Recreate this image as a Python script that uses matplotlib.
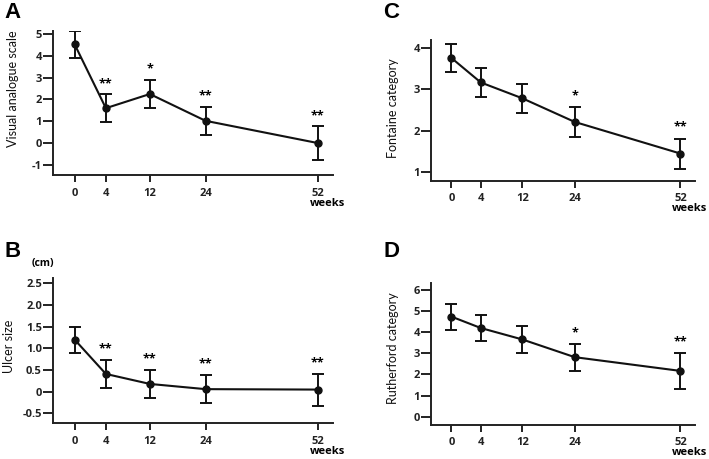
import numpy as np
import matplotlib
matplotlib.use("Agg")
import matplotlib.pyplot as plt
from matplotlib.transforms import offset_copy

plt.rcParams['font.family'] = ['Open Sans', 'DejaVu Sans']

weeks = [0, 4, 12, 24, 52]
week_labels = ["0", "4", "12", "24", "52"]

# Panel A: Visual analogue scale
vas_mean = [4.53, 1.60, 2.25, 1.02, 0.0]
vas_err = [0.62, 0.63, 0.66, 0.63, 0.76]
vas_sig = ["", "**", "*", "**", "**"]

# Panel B: Ulcer size (cm)
ulcer_mean = [1.20, 0.41, 0.18, 0.06, 0.05]
ulcer_err = [0.30, 0.32, 0.32, 0.33, 0.37]
ulcer_sig = ["", "**", "**", "**", "**"]

# Panel C: Fontaine category
font_mean = [3.75, 3.16, 2.78, 2.21, 1.45]
font_err = [0.34, 0.35, 0.35, 0.35, 0.36]
font_sig = ["", "", "", "*", "**"]

# Panel D: Rutherford category
ruth_mean = [4.74, 4.20, 3.66, 2.82, 2.17]
ruth_err = [0.62, 0.63, 0.65, 0.64, 0.85]
ruth_sig = ["", "", "", "*", "**"]


def fwd(x):
    x = np.asarray(x, dtype=float)
    return np.sign(x) * np.abs(x) ** 0.8


def inv(y):
    y = np.asarray(y, dtype=float)
    return np.sign(y) * np.abs(y) ** (1 / 0.8)


fig = plt.figure(figsize=(7.09, 4.59), dpi=100)


def panel(rect, mean, err, sig, ylim, yticks, yticklabels, ylabel, letter,
          letter_xy, star_off, label_x, label_y):
    ax = fig.add_axes(rect)
    ax.set_xscale('function', functions=(fwd, inv))
    ax.errorbar(weeks, mean, yerr=err, color='#111111', lw=1.5,
                marker='o', ms=5, capsize=4, capthick=1.4, elinewidth=1.4)
    ax.set_xlim(inv(-2.1), inv(25.1))
    ax.set_ylim(*ylim)
    ax.spines['top'].set_visible(False)
    ax.spines['right'].set_visible(False)
    for s in ('left', 'bottom'):
        ax.spines[s].set_linewidth(1.4)
        ax.spines[s].set_color('#222222')
    ax.set_xticks(weeks)
    ax.set_xticklabels(week_labels, fontsize=8, fontweight='bold')
    ax.xaxis.set_minor_locator(matplotlib.ticker.NullLocator())
    ax.set_yticks(yticks)
    ax.set_yticklabels(yticklabels, fontsize=8, fontweight='bold')
    ax.tick_params(axis='y', length=7, width=1.4, pad=1, colors='#222222')
    ax.tick_params(axis='x', length=5, width=1.4, pad=4, colors='#222222')
    ax.set_ylabel(ylabel, fontsize=9, family=['Lato', 'DejaVu Sans'], color='#111111')
    ax.yaxis.set_label_coords(label_x, label_y)
    for w, m, e, s in zip(weeks, mean, err, sig):
        if s:
            ax.text(w, m + e + star_off, s, ha='center', va='bottom',
                    fontsize=9, fontweight='bold')
    tr = offset_copy(ax.transAxes, fig=fig, x=0, y=-28 * 72 / 100, units='points')
    ax.text(0.98, 0.0, "weeks", transform=tr, ha='center', va='center',
            fontsize=8, fontweight='bold')
    fig.text(letter_xy[0], letter_xy[1], letter, fontsize=16, fontweight='bold',
             family='Liberation Sans', ha='left', va='top')
    return ax


panel([0.0748, 0.6187, 0.395, 0.314], vas_mean, vas_err, vas_sig,
      (-1.47, 5.15), [-1, 0, 1, 2, 3, 4, 5], ["-1", "0", "1", "2", "3", "4", "5"],
      "Visual analogue scale", "A", (0.006, 0.995), 0.2, -0.12, 0.6)

panel([0.0748, 0.0784, 0.395, 0.316], ulcer_mean, ulcer_err, ulcer_sig,
      (-0.72, 2.62), [-0.5, 0, 0.5, 1.0, 1.5, 2.0, 2.5],
      ["-0.5", "0", "0.5", "1.0", "1.5", "2.0", "2.5"],
      "Ulcer size", "B", (0.006, 0.475), 0.1, -0.135, 0.53)
fig.text(0.061, 0.427, "(cm)", fontsize=7.5, fontweight='bold', ha='center', va='center')

panel([0.6079, 0.6057, 0.3724, 0.307], font_mean, font_err, font_sig,
      (0.79, 4.18), [1, 2, 3, 4], ["1", "2", "3", "4"],
      "Fontaine category", "C", (0.541, 0.995), 0.12, -0.12, 0.52)

panel([0.6079, 0.0741, 0.3724, 0.3093], ruth_mean, ruth_err, ruth_sig,
      (-0.39, 6.33), [0, 1, 2, 3, 4, 5, 6], ["0", "1", "2", "3", "4", "5", "6"],
      "Rutherford category", "D", (0.541, 0.475), 0.2, -0.12, 0.54)

fig.savefig("out.png", dpi=100)
